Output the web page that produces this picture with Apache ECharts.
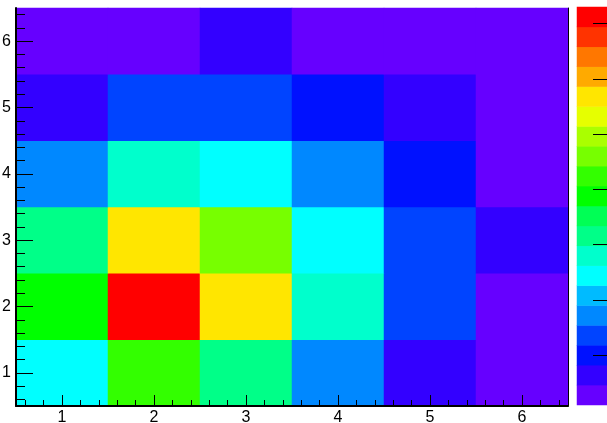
<!DOCTYPE html>
<html>
<head>
<meta charset="utf-8">
<script src="https://cdn.jsdelivr.net/npm/echarts@6/dist/echarts.min.js"></script>
<style>
html, body { margin: 0; padding: 0; background: #fff; }
#main { width: 607px; height: 423px; }
</style>
</head>
<body>
<div id="main"></div>
<script>
// 2D histogram, bins 1..6 on both axes
var xCats = ['1', '2', '3', '4', '5', '6'];
var yCats = ['1', '2', '3', '4', '5', '6'];
var tickVals = [1, 2, 3, 4, 5, 6];

// bin contents, one array per y row (x = 1..6)
var row1 = [25, 42, 32, 17, 7, 2];
var row2 = [39, 73, 56, 28, 14, 4];
var row3 = [31, 57, 46, 24, 13, 5];
var row4 = [17, 28, 25, 18, 11, 3];
var row5 = [7, 14, 13, 10, 6, 3];
var row6 = [2, 3, 6, 3, 2, 1];
var rows = [row1, row2, row3, row4, row5, row6];

// z range and palette axis ticks
var zMin = 1;
var zMax = 73;
var zTicks = [10, 20, 30, 40, 50, 60, 70];

// palette, low -> high
var palette = ['#6600ff', '#3300ff', '#0011ff', '#0044ff', '#0088ff',
               '#00bbff', '#00ffff', '#00ffcc', '#00ff88', '#00ff55',
               '#00ff00', '#33ff00', '#77ff00', '#aaff00', '#e6ff00',
               '#ffe600', '#ffaa00', '#ff7700', '#ff3300', '#ff0000'];

var heatData = [];
rows.forEach(function (r, j) {
    r.forEach(function (v, i) { heatData.push([i, j, v]); });
});

var step = (zMax - zMin) / palette.length;
var pieces = palette.map(function (c, i) {
    var p = { gte: zMin + i * step, color: c };
    if (i < palette.length - 1) p.lt = zMin + (i + 1) * step; else p.lte = zMax;
    return p;
});
var binNames = palette.map(function (c, i) { return 'b' + i; });
var barData = palette.map(function (c, i) { return [0, i, zMin + (i + 0.5) * step]; });

var black = { color: '#000', width: 1 };
var frame = { color: '#000', width: 2 };
var lab = { color: '#000', fontSize: 16, fontFamily: 'Liberation Sans' };

var myChart = echarts.init(document.getElementById('main'));
var option = {
    animation: false,
    backgroundColor: '#fff',
    grid: [
        { left: 16, top: 8, width: 552, height: 398, outerBoundsMode: 'none', containLabel: false },
        { left: 577, top: 7, width: 30, height: 398, outerBoundsMode: 'none', containLabel: false }
    ],
    xAxis: [
        { type: 'category', gridIndex: 0, data: xCats, show: false },
        {
            type: 'value', gridIndex: 0, min: 0.5, max: 6.5, position: 'bottom', z: 10,
            axisLine: { show: true, lineStyle: frame },
            axisTick: { show: true, inside: true, length: 11, customValues: tickVals, lineStyle: black },
            minorTick: { show: true, splitNumber: 5, length: 6, lineStyle: black },
            axisLabel: Object.assign({ customValues: tickVals, margin: 4 }, lab),
            splitLine: { show: false }
        },
        { type: 'category', gridIndex: 1, data: ['z'], show: false }
    ],
    yAxis: [
        { type: 'category', gridIndex: 0, data: yCats, show: false },
        {
            type: 'value', gridIndex: 0, min: 0.5, max: 6.5, position: 'left', z: 10,
            axisLine: { show: true, lineStyle: frame },
            axisTick: { show: true, inside: true, length: 17, customValues: tickVals, lineStyle: black },
            minorTick: { show: true, splitNumber: 5, length: 9, lineStyle: black },
            axisLabel: Object.assign({ customValues: tickVals, margin: 5 }, lab),
            splitLine: { show: false }
        },
        {
            type: 'value', gridIndex: 0, min: 0.5, max: 6.5, position: 'right', z: 10,
            axisLine: { show: true, lineStyle: black },
            axisTick: { show: false }, axisLabel: { show: false }, splitLine: { show: false }
        },
        { type: 'category', gridIndex: 1, data: binNames, show: false },
        {
            type: 'value', gridIndex: 1, min: zMin, max: zMax, position: 'right', z: 10,
            axisLine: { show: false },
            axisTick: { show: true, inside: true, length: 14, customValues: zTicks, lineStyle: black },
            axisLabel: { show: false },
            splitLine: { show: false }
        }
    ],
    visualMap: {
        type: 'piecewise', show: false, dimension: 2,
        seriesIndex: [0, 1], pieces: pieces
    },
    series: [
        {
            type: 'heatmap', xAxisIndex: 0, yAxisIndex: 0, data: heatData,
            label: { show: false }, emphasis: { disabled: true }
        },
        {
            type: 'heatmap', xAxisIndex: 2, yAxisIndex: 3, data: barData,
            label: { show: false }, emphasis: { disabled: true }
        }
    ]
};
myChart.setOption(option);
</script>
</body>
</html>
